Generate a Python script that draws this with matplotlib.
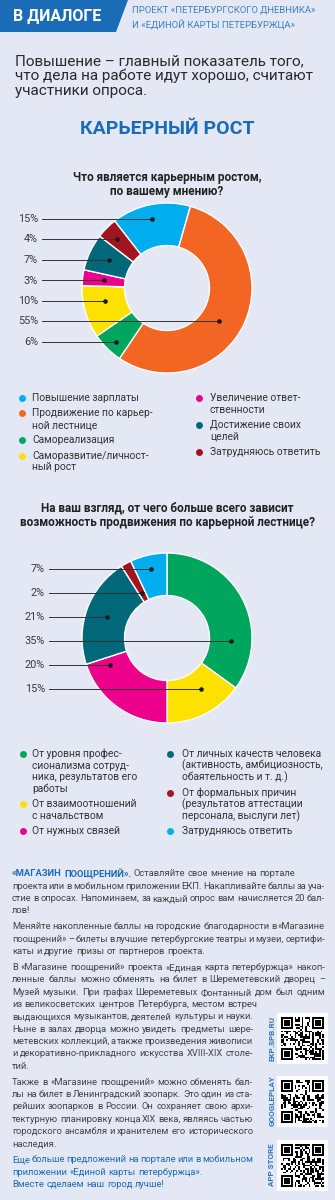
import hashlib
import numpy as np
import matplotlib
matplotlib.use("Agg")
import matplotlib.pyplot as plt
from matplotlib import font_manager
from matplotlib.patches import Polygon, Rectangle

plt.rcParams['font.family'] = ['Roboto', 'DejaVu Sans']

# colours
BG = '#e4e8f4'
HEAD = '#1b6cb6'
BLUE = '#00aeef'
ORANGE = '#f26522'
GREEN = '#00a65d'
YELLOW = '#ffe100'
MAGENTA = '#ec008c'
TEAL = '#006878'
DARKRED = '#a3141f'

# chart 1: what is career growth
cat1 = ["Повышение зарплаты", "Продвижение по карьер-\nной лестнице", "Самореализация",
        "Саморазвитие/личност-\nный рост", "Увеличение ответ-\nственности",
        "Достижение своих\nцелей", "Затрудняюсь ответить"]
val1 = [15, 55, 6, 10, 3, 7, 4]
col1 = [BLUE, ORANGE, GREEN, YELLOW, MAGENTA, TEAL, DARKRED]
order1 = [0, 6, 5, 4, 3, 1, 2]   # order of the % labels, top to bottom

# chart 2: what does promotion depend on
cat2 = ["От уровня профес-\nсионализма сотруд-\nника, результатов его\nработы",
        "От взаимоотношений\nс начальством", "От нужных связей",
        "От личных качеств человека\n(активность, амбициозность,\nобаятельность и т. д.)",
        "От формальных причин\n(результатов аттестации\nперсонала, выслуги лет)",
        "Затрудняюсь ответить"]
val2 = [35, 15, 20, 21, 2, 7]
col2 = [GREEN, YELLOW, MAGENTA, TEAL, DARKRED, BLUE]
order2 = [5, 4, 3, 0, 2, 1]

names = {f.name for f in font_manager.fontManager.ttflist}
narrow_ok = 'Liberation Sans Narrow' in names
NARROW = ['Liberation Sans Narrow', 'Roboto'] if narrow_ok else ['Roboto']

W, H = 335, 1200
fig = plt.figure(figsize=(W / 100, H / 100), dpi=100)
fig.patch.set_facecolor(BG)
ax = fig.add_axes([0, 0, 1, 1])
ax.set_xlim(0, W)
ax.set_ylim(H, 0)
ax.axis('off')
rend = fig.canvas.get_renderer()

# header
ax.add_patch(Polygon([(0, 0), (128, 0), (116, 32), (0, 32)], closed=True, color=HEAD, lw=0))
ax.text(13, 16.5, "В ДИАЛОГЕ", color='white', fontsize=11.5, weight='bold', va='center')
hs = 7.6 if narrow_ok else 6.8
ax.text(132, 10, "ПРОЕКТ «ПЕТЕРБУРГСКОГО ДНЕВНИКА»", color='#3a80c6', fontsize=hs, va='center', family=NARROW)
ax.text(132, 25, "И «ЕДИНОЙ КАРТЫ ПЕТЕРБУРЖЦА»", color='#3a80c6', fontsize=hs, va='center', family=NARROW)

intro = ["Повышение – главный показатель того,", "что дела на работе идут хорошо, считают",
         "участники опроса."]
for k, s in enumerate(intro):
    ax.text(15, 61 + k * 15, s, fontsize=11, color='#2a2a2a', va='center')

ax.text(167, 129, "КАРЬЕРНЫЙ РОСТ", fontsize=14, weight='bold', color=HEAD, ha='center', va='center')


def question(lines, y):
    for k, s in enumerate(lines):
        ax.text(167, y + k * 14.5, s, fontsize=8.5, weight='bold', color='#222222', ha='center', va='center')


def donut(vals, cols, cx, cy, r, start):
    pa = fig.add_axes([(cx - r) / W, 1 - (cy + r) / H, 2 * r / W, 2 * r / H])
    wedges, _ = pa.pie(vals, colors=cols, startangle=start, counterclock=False, radius=1,
                       wedgeprops=dict(width=0.5, edgecolor='white', linewidth=1))
    pa.set_xlim(-1, 1)
    pa.set_ylim(-1, 1)
    pa.set_aspect('equal')
    pa.axis('off')
    return pa, wedges


def callouts(pa, wedges, vals, order, y0, step, xr):
    inv = pa.transData.inverted()
    xs = np.linspace(-1, 1, 4001)
    for k, i in enumerate(order):
        ypx = y0 + k * step
        ax.text(xr, ypx, f"{vals[i]}%", ha='right', va='center', fontsize=7.8, color='#3a3a3a')
        x_start, yd = inv.transform((xr + 4, H - ypx))
        w = wedges[i]
        rr = np.hypot(xs, yd)
        ang = np.degrees(np.arctan2(yd, xs))
        inside = (((ang - w.theta1) % 360) <= (w.theta2 - w.theta1)) & (rr >= 1 - w.width) & (rr <= 1)
        idx = np.flatnonzero(inside)
        segs = np.split(idx, np.flatnonzero(np.diff(idx) > 1) + 1)
        seg = max(segs, key=len)
        xd = xs[seg].mean()
        pa.plot([x_start, xd], [yd, yd], color='#333333', lw=0.7, clip_on=False, zorder=5)
        pa.plot(xd, yd, 'o', ms=2.3, color='#1a1a1a', clip_on=False, zorder=6)


LS = 8.6 if narrow_ok else 7.4


def legend(cats, cols, x_dot, x_txt, y0, n_left):
    y = y0
    for j, (c, col) in enumerate(zip(cats, cols)):
        if j == n_left:
            x_dot, x_txt = x_dot2, x_txt2
            y = y0
        ax.plot(x_dot, y, 'o', ms=5, color=col, mec='none')
        lines = c.split('\n')
        for k, s in enumerate(lines):
            ax.text(x_txt, y + k * 11.6, s, fontsize=LS, color='#333333', va='center', family=NARROW)
        y += len(lines) * 11.6 + 3.8


# chart 1
question(["Что является карьерным ростом,", "по вашему мнению?"], 177)
pa1, w1 = donut(val1, col1, 167, 288, 85, 128)
callouts(pa1, w1, val1, order1, 219, 20.5, 38)
x_dot2, x_txt2 = 199, 210
legend(cat1, col1, 22, 32, 398, 4)

# chart 2
question(["На ваш взгляд, от чего больше всего зависит",
          "возможность продвижения по карьерной лестнице?"], 508)
pa2, w2 = donut(val2, col2, 167, 638, 85, 90)
callouts(pa2, w2, val2, order2, 569, 24, 45)
x_dot2, x_txt2 = 170, 182
legend(cat2, col2, 23, 32, 754, 3)

# text block
paras = [
    ["«МАГАЗИН ПООЩРЕНИЙ». Оставляйте свое мнение на портале",
     "проекта или в мобильном приложении ЕКП. Накапливайте баллы за уча-",
     "стие в опросах. Напоминаем, за каждый опрос вам начисляется 20 бал-",
     "лов!"],
    ["Меняйте накопленные баллы на городские благодарности в «Магазине",
     "поощрений» – билеты в лучшие петербургские театры и музеи, сертифи-",
     "каты и другие призы от партнеров проекта."],
    ["В «Магазине поощрений» проекта «Единая карта петербуржца» накоп-",
     "ленные баллы можно обменять на билет в Шереметевский дворец –",
     "Музей музыки. При графах Шереметевых Фонтанный дом был одним",
     "из великосветских центров Петербурга, местом встреч",
     "выдающихся музыкантов, деятелей культуры и науки.",
     "Ныне в залах дворца можно увидеть предметы шере-",
     "метевских коллекций, а также произведения живописи",
     "и декоративно-прикладного искусства XVIII-XIX столе-",
     "тий."],
    ["Также в «Магазине поощрений» можно обменять бал-",
     "лы на билет в Ленинградский зоопарк. Это один из ста-",
     "рейших зоопарков в России. Он сохраняет свою архи-",
     "тектурную планировку конца XIX века, являясь частью",
     "городского ансамбля и хранителем его исторического",
     "наследия."],
    ["Еще больше предложений на портале или в мобильном",
     "приложении «Единой карты петербуржца».",
     "Вместе сделаем наш город лучше!"],
]
bold_words = {"«МАГАЗИН", "ПООЩРЕНИЙ»."}
X0, X1_FULL, X1_NARROW = 12, 325, 253
TEXT_C = '#444444'


def word_kw(wd):
    return {'weight': 'bold'} if wd in bold_words else {}


def wwidth(s, fs, **kw):
    t = ax.text(0, 0, s, fontsize=fs, family=NARROW, **kw)
    wdt = t.get_window_extent(rend).width
    t.remove()
    return wdt


# fit the body font so justified lines never overflow (min gap 1.6 px)
fs = 7.6
ratio = 0
y = 874
for p in paras:
    for k, s in enumerate(p):
        x1 = X1_FULL if y < 1008 else X1_NARROW
        words = s.split(' ')
        need = sum(wwidth(wd, fs, **word_kw(wd)) for wd in words) + 1.6 * (len(words) - 1)
        ratio = max(ratio, need / (x1 - X0))
        y += 12.3
    y += 3.8
if ratio > 1:
    fs = fs / ratio

space = wwidth('н н', fs) - wwidth('нн', fs)
y = 874
for pi, p in enumerate(paras):
    blue = pi == len(paras) - 1
    for k, s in enumerate(p):
        x1 = X1_FULL if y < 1008 else X1_NARROW
        words = s.split(' ')
        widths = [wwidth(wd, fs, **word_kw(wd)) for wd in words]
        gap = space
        if k < len(p) - 1 and len(words) > 1:
            g = (x1 - X0 - sum(widths)) / (len(words) - 1)
            if g < 2.6 * space:
                gap = g
        x = X0
        for wd, wdt in zip(words, widths):
            if wd in bold_words:
                st = dict(color=HEAD, weight='bold')
            else:
                st = dict(color=HEAD if blue else TEXT_C)
            ax.text(x, y, wd, fontsize=fs, va='center', family=NARROW, **st)
            x += wdt + gap
        y += 12.3
    y += 3.8


# QR blocks (decorative pattern)
def qr(x, y, s, seed, label, ly):
    n = 25
    h = hashlib.sha256(seed.encode()).digest() * 3
    bits = np.unpackbits(np.frombuffer(h, dtype=np.uint8))[:n * n].reshape(n, n).copy()
    for r, c in [(0, 0), (0, n - 7), (n - 7, 0)]:
        bits[max(r - 1, 0):r + 8, max(c - 1, 0):c + 8] = 0
        bits[r:r + 7, c:c + 7] = 1
        bits[r + 1:r + 6, c + 1:c + 6] = 0
        bits[r + 2:r + 5, c + 2:c + 5] = 1
    ax.add_patch(Rectangle((x, y), s, s, color='white', lw=0))
    qa = fig.add_axes([(x + 4) / W, 1 - (y + s - 4) / H, (s - 8) / W, (s - 8) / H])
    qa.imshow(1 - bits, cmap='gray', interpolation='nearest', vmin=0, vmax=1)
    qa.axis('off')
    ax.text(272, ly, label, rotation=90, ha='center', va='center', fontsize=5.8,
            weight='bold', color='#2a78c2')


qr(277, 1013, 51, "ekp.spb.ru", "EKP.SPB.RU", 1038)
qr(277, 1076, 51, "googleplay", "GOOGLEPLAY", 1101)
qr(277, 1140, 51, "appstore", "APP STORE", 1165)

fig.savefig("out.png", dpi=100, facecolor=BG)
